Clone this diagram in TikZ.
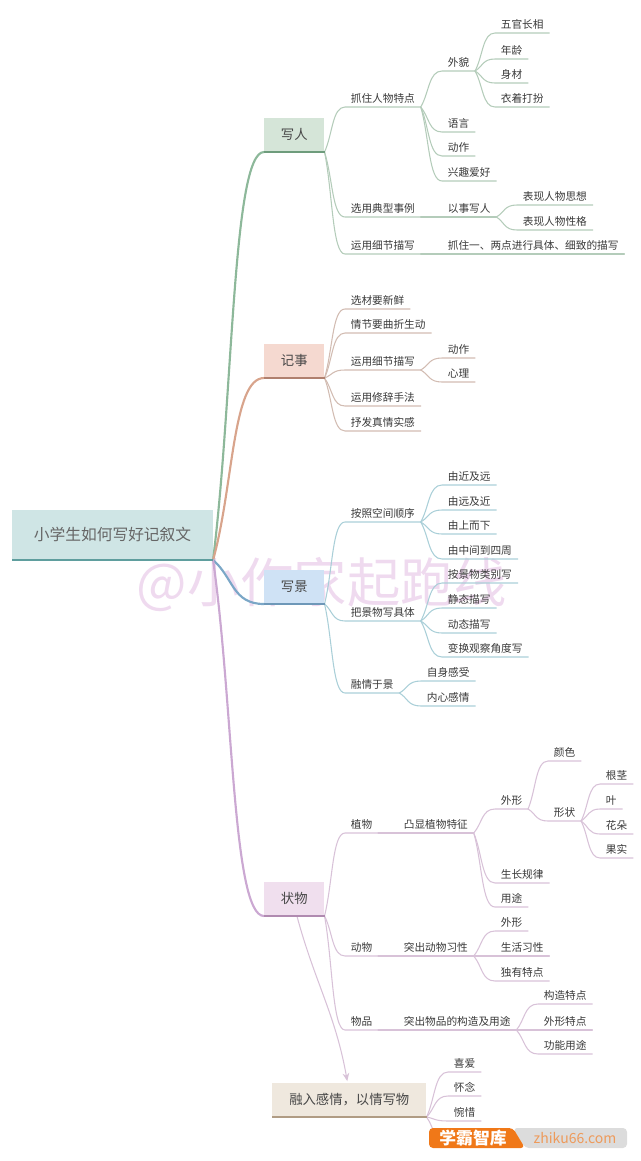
\documentclass[tikz,border=0pt]{standalone}
\usepackage{fontspec}
\setmainfont{Noto Sans CJK SC}
\usepackage{xcolor}
\usetikzlibrary{positioning,arrows.meta,calc}

\definecolor{rootfill}{HTML}{CFE5E5}
\definecolor{rootline}{HTML}{5F9E9E}
\definecolor{xrfill}{HTML}{D5E5D8}
\definecolor{xrline}{HTML}{6E9C7C}
\definecolor{xrlink}{HTML}{B4CCBA}
\definecolor{xrroot}{HTML}{8DB89A}
\definecolor{jsfill}{HTML}{F5D9D0}
\definecolor{jsline}{HTML}{B0806E}
\definecolor{jslink}{HTML}{D2BCB2}
\definecolor{jsroot}{HTML}{D8A48C}
\definecolor{xjfill}{HTML}{CFE2F5}
\definecolor{xjline}{HTML}{6E98B8}
\definecolor{xjlink}{HTML}{AACFD8}
\definecolor{xjroot}{HTML}{7BA7C7}
\definecolor{zwfill}{HTML}{F0DFEE}
\definecolor{zwline}{HTML}{B08AB0}
\definecolor{zwlink}{HTML}{D8C2D8}
\definecolor{zwroot}{HTML}{CBA8D2}
\definecolor{rqfill}{HTML}{EFE8DE}
\definecolor{rqline}{HTML}{B09C84}
\definecolor{wmark}{HTML}{E6C6E6}
\definecolor{logoorange}{HTML}{F07818}
\definecolor{logogray}{HTML}{DCDCDC}
\definecolor{logotext}{HTML}{EE9A5A}

\begin{document}
\begin{tikzpicture}[
  x=.75pt, y=-.75pt,
  leaf/.style={anchor=south west, inner xsep=4.2pt, inner ysep=1.9pt, text height=7pt, text depth=1pt, font=\fontsize{8}{8}\selectfont, text=black!78},
  mainbox/.style={anchor=south west, inner sep=0pt, minimum width=45pt, minimum height=25.5pt, font=\fontsize{10}{10}\selectfont, text=black!72},
  link/.style={line width=.8pt, line cap=round, to path={let \p1=(\tikztostart), \p2=(\tikztotarget) in .. controls ({\x1+.4*(\x2-\x1)},{\y1+.4*(\y2-\y1)}) and ({\x1+.38*(\x2-\x1)},\y2) .. (\p2)}},
  rootlink/.style={link, line width=1.6pt},
]
\useasboundingbox (0,0) rectangle (640,1161);

% Mark behind the picture
\node[text=wmark, opacity=.65, font=\fontsize{40}{40}\selectfont, inner sep=0pt] (wm) at (322,585) {@小作家起跑线};

% Main boxes
\node[mainbox, fill=rootfill, minimum width=150.4pt, minimum height=37.5pt, font=\fontsize{11.8}{11.8}\selectfont, text=black!60] (root) at (12,560) {小学生如何写好记叙文};
\node[mainbox, fill=xrfill] (xr) at (264,152) {写人};
\node[mainbox, fill=jsfill] (js) at (264,378) {记事};
\node[mainbox, fill=xjfill] (xj) at (264,604) {写景};
\node[mainbox, fill=zwfill] (zw) at (264,916) {状物};
\node[mainbox, fill=rqfill, minimum width=115.5pt] (rq) at (272,1117) {融入感情，以情写物};

% Branch one
\node[leaf] (xr1) at (345,107) {抓住人物特点};
\node[leaf] (xr11) at (442,71) {外貌};
\node[leaf] (xr111) at (495,33) {五官长相};
\node[leaf] (xr112) at (495,59) {年龄};
\node[leaf] (xr113) at (495,83) {身材};
\node[leaf] (xr114) at (495,107) {衣着打扮};
\node[leaf] (xr12) at (442,132) {语言};
\node[leaf] (xr13) at (442,156) {动作};
\node[leaf] (xr14) at (442,181) {兴趣爱好};
\node[leaf] (xr2) at (345,217) {选用典型事例};
\node[leaf] (xr21) at (442,217) {以事写人};
\node[leaf] (xr211) at (517,205) {表现人物思想};
\node[leaf] (xr212) at (517,230) {表现人物性格};
\node[leaf] (xr3) at (345,254) {运用细节描写};
\node[leaf] (xr31) at (442,254) {抓住一、两点进行具体、细致的描写};

% Branch two
\node[leaf] (js1) at (345,309) {选材要新鲜};
\node[leaf] (js2) at (345,333) {情节要曲折生动};
\node[leaf] (js3) at (345,370) {运用细节描写};
\node[leaf] (js31) at (442,358) {动作};
\node[leaf] (js32) at (442,382) {心理};
\node[leaf] (js4) at (345,406) {运用修辞手法};
\node[leaf] (js5) at (345,431) {抒发真情实感};

% Branch three
\node[leaf] (xj1) at (345,522) {按照空间顺序};
\node[leaf] (xj11) at (442,485) {由近及远};
\node[leaf] (xj12) at (442,510) {由远及近};
\node[leaf] (xj13) at (442,534) {由上而下};
\node[leaf] (xj14) at (442,559) {由中间到四周};
\node[leaf] (xj2) at (345,621) {把景物写具体};
\node[leaf] (xj21) at (442,583) {按景物类别写};
\node[leaf] (xj22) at (442,608) {静态描写};
\node[leaf] (xj23) at (442,633) {动态描写};
\node[leaf] (xj24) at (442,657) {变换观察角度写};
\node[leaf] (xj3) at (345,693) {融情于景};
\node[leaf] (xj31) at (421,681) {自身感受};
\node[leaf] (xj32) at (421,706) {内心感情};

% Branch four
\node[leaf] (zw1) at (345,833) {植物};
\node[leaf] (zw11) at (398,833) {凸显植物特征};
\node[leaf] (zw111) at (495,809) {外形};
\node[leaf] (zw1111) at (548,761) {颜色};
\node[leaf] (zw1112) at (548,821) {形状};
\node[leaf] (zw11121) at (600,784) {根茎};
\node[leaf] (zw11122) at (600,809) {叶};
\node[leaf] (zw11123) at (600,834) {花朵};
\node[leaf] (zw11124) at (600,858) {果实};
\node[leaf] (zw112) at (495,883) {生长规律};
\node[leaf] (zw113) at (495,907) {用途};
\node[leaf] (zw2) at (345,956) {动物};
\node[leaf] (zw21) at (398,956) {突出动物习性};
\node[leaf] (zw211) at (495,931) {外形};
\node[leaf] (zw212) at (495,956) {生活习性};
\node[leaf] (zw213) at (495,981) {独有特点};
\node[leaf] (zw3) at (345,1030) {物品};
\node[leaf] (zw31) at (398,1030) {突出物品的构造及用途};
\node[leaf] (zw311) at (538,1004) {构造特点};
\node[leaf] (zw312) at (538,1030) {外形特点};
\node[leaf] (zw313) at (538,1054) {功能用途};

% Feeling box
\node[leaf] (rq1) at (448,1072) {喜爱};
\node[leaf] (rq2) at (448,1096) {怀念};
\node[leaf] (rq3) at (448,1121) {惋惜};
\coordinate (rq4) at (448,1146);

% Connectors
\foreach \a/\b in {xr/xr1, xr1/xr11, xr11/xr111, xr11/xr112, xr11/xr113, xr11/xr114, xr1/xr12, xr1/xr13, xr1/xr14, xr/xr2, xr2/xr21, xr21/xr211, xr21/xr212, xr/xr3, xr3/xr31}
  \draw[link, xrlink] (\a.south east) to (\b.south west) -- (\b.south east);
\foreach \a/\b in {js/js1, js/js2, js/js3, js3/js31, js3/js32, js/js4, js/js5}
  \draw[link, jslink] (\a.south east) to (\b.south west) -- (\b.south east);
\foreach \a/\b in {xj/xj1, xj1/xj11, xj1/xj12, xj1/xj13, xj1/xj14, xj/xj2, xj2/xj21, xj2/xj22, xj2/xj23, xj2/xj24, xj/xj3, xj3/xj31, xj3/xj32}
  \draw[link, xjlink] (\a.south east) to (\b.south west) -- (\b.south east);
\foreach \a/\b in {zw/zw1, zw1/zw11, zw11/zw111, zw111/zw1111, zw111/zw1112, zw1112/zw11121, zw1112/zw11122, zw1112/zw11123, zw1112/zw11124, zw11/zw112, zw11/zw113, zw/zw2, zw2/zw21, zw21/zw211, zw21/zw212, zw21/zw213, zw/zw3, zw3/zw31, zw31/zw311, zw31/zw312, zw31/zw313}
  \draw[link, zwlink] (\a.south east) to (\b.south west) -- (\b.south east);
\foreach \b in {rq1, rq2, rq3}
  \draw[link, zwlink] (rq.south east) to (\b.south west) -- (\b.south east);
\draw[link, zwlink] (rq.south east) to (rq4);

% From the root
\draw[rootlink, xrroot] (root.south east) to (xr.south west);
\draw[rootlink, jsroot] (root.south east) to (js.south west);
\draw[rootlink, xjroot] (root.south east) to (xj.south west);
\draw[rootlink, zwroot] (root.south east) to (zw.south west);
\draw[line width=.8pt, zwlink, -{Stealth[length=6pt, width=5pt]}] ([xshift=2pt]zw.south) to[out=-75, in=100] ([xshift=-1.5pt,yshift=1pt]rq.north);

% Thick lines under the boxes
\foreach \n/\c in {root/rootline, xr/xrline, js/jsline, xj/xjline, zw/zwline, rq/rqline}
  \draw[line width=2pt, \c] (\n.south west) -- (\n.south east);

% Logo
\fill[logogray, rounded corners=3pt] (513,1128) -- (627,1128) -- (627,1148) -- (525,1148) -- cycle;
\fill[logoorange, rounded corners=3pt] (429,1128) -- (513,1128) -- (525,1148) -- (429,1148) -- cycle;
\node[text=white, font=\fontsize{12.6}{12.6}\selectfont\bfseries, inner sep=0pt] (logo) at (473,1138) {学霸智库};
\node[text=logotext, font=\fontsize{10.5}{10.5}\selectfont, inner sep=0pt] (site) at (575,1138) {zhiku66.com};

\end{tikzpicture}
\end{document}
